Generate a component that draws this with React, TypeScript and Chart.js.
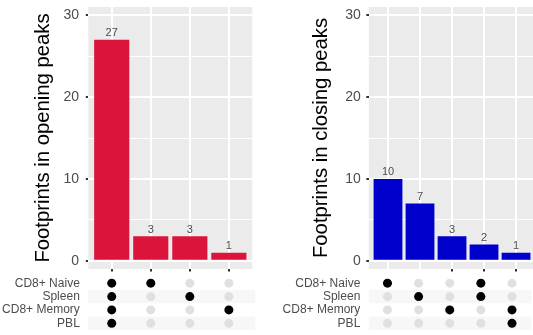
import React, { useEffect, useRef } from "react";
import { Chart, registerables } from "chart.js";

Chart.register(...registerables);

const FONT = '"Liberation Sans", Arial, Helvetica, sans-serif';
Chart.defaults.font.family = FONT;

// ---- data ----
const setNames = ["CD8+ Naive", "Spleen", "CD8+ Memory", "PBL"];

const openingCounts = [27, 3, 3, 1];
const openingCombos = [
  ["CD8+ Naive", "Spleen", "CD8+ Memory", "PBL"],
  ["CD8+ Naive"],
  ["Spleen"],
  ["CD8+ Memory"],
];

const closingCounts = [10, 7, 3, 2, 1];
const closingCombos = [
  ["CD8+ Naive"],
  ["Spleen"],
  ["CD8+ Memory"],
  ["CD8+ Naive", "Spleen"],
  ["CD8+ Memory", "PBL"],
];

const yMin = -1;
const yMax = 31;
const yStep = 5;
const yLabelEvery = 10;

// ---- plugins ----
const panelBg = {
  id: "panelBg",
  beforeDraw(chart: any) {
    const { ctx, chartArea: a } = chart;
    ctx.save();
    ctx.fillStyle = "#EBEBEB";
    ctx.fillRect(a.left, a.top, a.right - a.left, a.bottom - a.top);
    ctx.restore();
  },
};

const barLabels = {
  id: "barLabels",
  afterDatasetsDraw(chart: any) {
    const ctx = chart.ctx;
    const meta = chart.getDatasetMeta(0);
    const data = chart.data.datasets[0].data;
    ctx.save();
    ctx.font = `11px ${FONT}`;
    ctx.fillStyle = "#4D4D4D";
    ctx.textAlign = "center";
    ctx.textBaseline = "alphabetic";
    meta.data.forEach((el: any, i: number) => {
      ctx.fillText(String(data[i].y), el.x, el.y - 3.5);
    });
    ctx.restore();
  },
};

const stripes = {
  id: "stripes",
  beforeDatasetsDraw(chart: any) {
    const { ctx, chartArea: a } = chart;
    const ys = chart.scales.y;
    const step = ys.getPixelForValue(1) - ys.getPixelForValue(0);
    ctx.save();
    ctx.fillStyle = "#F7F7F7";
    for (let i = 1; i < setNames.length; i += 2) {
      const c = ys.getPixelForValue(i);
      ctx.fillRect(a.left, c - step / 2, a.right - a.left + 3, step);
    }
    ctx.restore();
  },
};

type PanelProps = {
  left: number;
  width: number;
  counts: number[];
  combos: string[][];
  color: string;
  title: string;
  xMax: number;
  axisWidth: number;
  padRight: number;
  titlePad: number;
  tickPad: number;
  tickFrom: number;
};

const BAR_H = 275;
const MAT_TOP = 269;
const MAT_H = 66;

function Panel(p: PanelProps) {
  const barRef = useRef<HTMLCanvasElement>(null);
  const matRef = useRef<HTMLCanvasElement>(null);

  useEffect(() => {
    const fixAxis = (s: any) => {
      s.width = p.axisWidth;
      s.paddingTop = 0;
      s.paddingBottom = 0;
    };

    const bar = new Chart(barRef.current as HTMLCanvasElement, {
      type: "bar",
      data: {
        datasets: [
          {
            data: p.counts.map((v, i) => ({ x: i, y: v })),
            backgroundColor: p.color,
            borderWidth: 0,
            categoryPercentage: 1,
            barPercentage: 0.9,
          } as any,
        ],
      },
      options: {
        animation: false,
        responsive: false,
        devicePixelRatio: 1,
        layout: { padding: { top: 7, right: p.padRight, bottom: 3.5, left: 0 } },
        plugins: { legend: { display: false }, tooltip: { enabled: false } },
        scales: {
          x: {
            type: "linear",
            min: -0.6,
            max: p.xMax,
            offset: false,
            ticks: { display: false, stepSize: 1, includeBounds: false, autoSkip: false } as any,
            grid: {
              offset: false,
              color: "#FFFFFF",
              lineWidth: 2,
              drawTicks: true,
              tickLength: 2.5,
              tickWidth: 2,
              tickColor: (ctx: any) => (ctx.index >= p.tickFrom ? "#333333" : "rgba(0,0,0,0)"),
            },
            border: { display: false },
          },
          y: {
            min: yMin,
            max: yMax,
            afterFit: fixAxis,
            ticks: {
              stepSize: yStep,
              includeBounds: false,
              autoSkip: false,
              color: "#4D4D4D",
              font: { size: 14, lineHeight: 0.8 },
              padding: p.tickPad,
              callback: (v: any) => (Number(v) % yLabelEvery === 0 ? String(v) : ""),
            } as any,
            grid: {
              color: "#FFFFFF",
              lineWidth: (ctx: any) => (ctx.tick && ctx.tick.value % yLabelEvery === 0 ? 2 : 1),
              drawTicks: true,
              tickLength: 2.5,
              tickWidth: 2,
              tickColor: (ctx: any) =>
                ctx.tick && ctx.tick.value % yLabelEvery === 0 ? "#333333" : "rgba(0,0,0,0)",
            },
            border: { display: false },
            title: {
              display: true,
              text: p.title,
              color: "#000000",
              font: { size: 20.3 },
              padding: { top: p.titlePad, bottom: 0 },
            },
          },
        },
      } as any,
      plugins: [panelBg, barLabels],
    });

    const points: { x: number; y: string }[] = [];
    const colors: string[] = [];
    p.combos.forEach((combo, i) => {
      setNames.forEach((s) => {
        points.push({ x: i, y: s });
        colors.push(combo.includes(s) ? "#000000" : "#E0E0E0");
      });
    });

    const mat = new Chart(matRef.current as HTMLCanvasElement, {
      type: "scatter",
      data: {
        datasets: [
          {
            data: points,
            pointRadius: 4.5,
            pointHoverRadius: 4.5,
            pointBackgroundColor: colors,
            pointBorderWidth: 0,
          } as any,
        ],
      },
      options: {
        animation: false,
        responsive: false,
        devicePixelRatio: 1,
        layout: { padding: { top: 7.5, right: p.padRight, bottom: 5, left: 0 } },
        plugins: { legend: { display: false }, tooltip: { enabled: false } },
        scales: {
          x: { type: "linear", display: false, min: -0.6, max: p.xMax },
          y: {
            type: "category",
            labels: setNames,
            offset: true,
            afterFit: fixAxis,
            grid: { display: false },
            border: { display: false },
            ticks: {
              color: "#4D4D4D",
              font: { size: 12, lineHeight: 0.8 },
              padding: 0.5,
              autoSkip: false,
            },
          },
        },
      } as any,
      plugins: [stripes],
    });

    return () => {
      bar.destroy();
      mat.destroy();
    };
  }, []);

  return (
    <>
      <canvas
        ref={barRef}
        width={p.width}
        height={BAR_H}
        style={{ position: "absolute", left: p.left, top: 0, width: p.width, height: BAR_H }}
      />
      <canvas
        ref={matRef}
        width={p.width}
        height={MAT_H}
        style={{ position: "absolute", left: p.left, top: MAT_TOP, width: p.width, height: MAT_H }}
      />
    </>
  );
}

export default function App() {
  return (
    <div
      style={{
        position: "absolute",
        left: 0,
        top: 0,
        width: 533,
        height: 335,
        overflow: "hidden",
        background: "#FFFFFF",
      }}
    >
      <Panel
        left={0}
        width={266}
        counts={openingCounts}
        combos={openingCombos}
        color="#DC143C"
        title="Footprints in opening peaks"
        xMax={3.6}
        axisWidth={88.3}
        padRight={13.7}
        titlePad={31}
        tickPad={6.8}
        tickFrom={0}
      />
      <Panel
        left={266}
        width={267}
        counts={closingCounts}
        combos={closingCombos}
        color="#0000CD"
        title="Footprints in closing peaks"
        xMax={4.53}
        axisWidth={102.8}
        padRight={0}
        titlePad={42.8}
        tickPad={5.6}
        tickFrom={2}
      />
    </div>
  );
}
